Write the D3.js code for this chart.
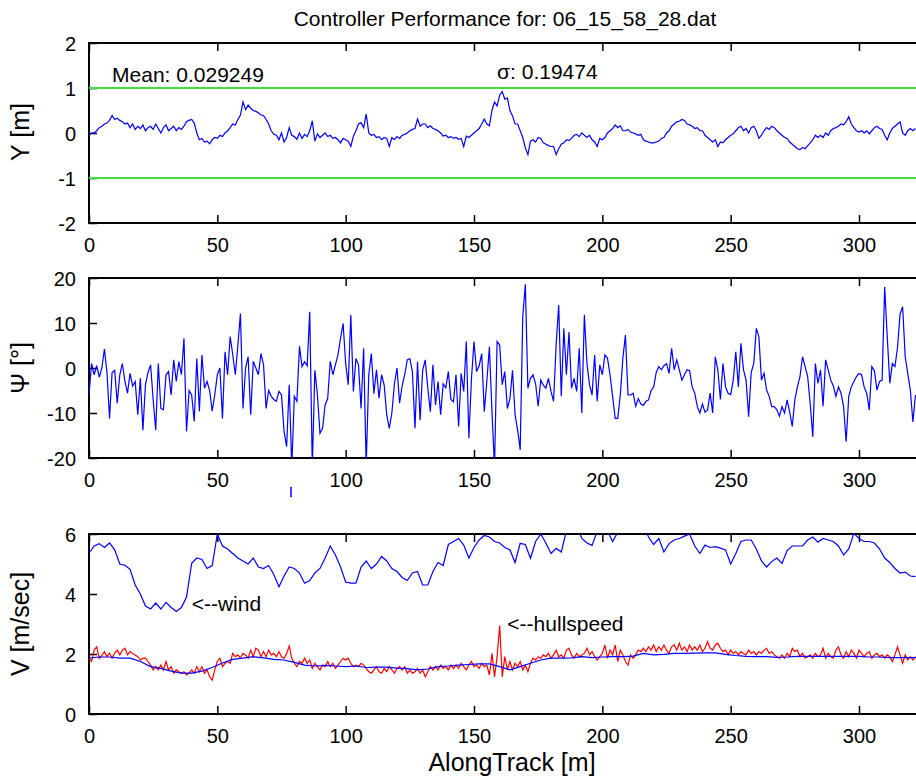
<!DOCTYPE html>
<html><head><meta charset="utf-8">
<script src="https://cdn.jsdelivr.net/npm/d3@7"></script>
<style>body{margin:0;background:#fff;overflow:hidden}</style>
</head><body><svg id="c" width="916" height="778"></svg>
<script>
const chartTitle = "Controller Performance for: 06_15_58_28.dat";
const xTitle = "AlongTrack [m]";
const xTicks = [0, 50, 100, 150, 200, 250, 300];
const yTicksY = [-2, -1, 0, 1, 2];
const yTicksPsi = [-20, -10, 0, 10, 20];
const yTicksV = [0, 2, 4, 6];
const limitLines = [1, -1];
const meanText = "Mean: 0.029249";
const sigmaText = "σ: 0.19474";

// cross-track error Y [m], one sample per metre (0..322)
const crossTrack = [
-0.05,0.0,0.0,0.05,0.12,0.15,0.2,0.22,0.28,0.39,0.3,0.33,0.28,0.25,0.2,0.22,
0.12,0.2,0.08,0.15,0.1,0.18,0.05,0.12,0.15,0.08,0.2,0.1,0.0,0.12,0.18,0.05,0.1,0.15,0.05,0.12,0.08,0.15,
0.25,0.28,0.3,0.22,0.0,-0.15,-0.12,-0.2,-0.18,-0.24,-0.15,-0.1,-0.12,-0.05,-0.08,0.0,0.05,0.12,0.2,0.18,0.3,0.4,
0.69,0.52,0.62,0.55,0.5,0.48,0.45,0.4,0.39,0.3,0.2,0.05,-0.03,-0.05,-0.15,0.0,-0.2,-0.1,0.12,-0.05,
-0.08,-0.14,0.0,-0.12,-0.03,-0.08,0.05,0.27,-0.18,-0.02,-0.1,-0.05,0.0,-0.08,-0.05,-0.12,-0.1,-0.15,-0.22,-0.12,
-0.15,-0.18,-0.3,-0.07,0.05,0.2,0.23,0.12,0.42,0.0,-0.05,-0.03,-0.1,-0.08,-0.15,-0.1,-0.12,-0.3,-0.1,-0.15,
-0.08,-0.12,-0.05,-0.03,0.0,0.05,0.08,0.1,0.31,0.15,0.2,0.2,0.12,0.16,0.1,0.08,0.05,0.0,-0.07,-0.05,
-0.1,-0.08,-0.12,-0.1,-0.14,-0.12,-0.3,-0.07,-0.1,-0.05,0.0,0.05,0.1,0.2,0.31,0.2,0.16,0.5,0.69,0.6,
0.84,0.92,0.75,0.78,0.5,0.38,0.2,0.2,0.05,-0.1,-0.33,-0.48,-0.18,-0.15,-0.2,-0.1,-0.12,-0.22,-0.25,-0.28,
-0.3,-0.3,-0.48,-0.35,-0.25,-0.22,-0.15,-0.17,-0.12,-0.05,-0.03,-0.08,0.0,-0.05,-0.1,-0.05,-0.15,-0.2,-0.3,-0.12,
-0.15,-0.1,0.0,0.05,0.1,0.18,0.12,0.16,0.05,0.05,0.08,0.02,0.0,-0.02,-0.05,-0.03,-0.15,-0.18,-0.2,-0.22,
-0.22,-0.2,-0.18,-0.12,-0.1,0.0,0.05,0.15,0.2,0.25,0.26,0.3,0.28,0.2,0.18,0.15,0.1,0.12,0.05,0.05,
-0.05,-0.1,-0.15,-0.2,-0.15,-0.3,-0.2,-0.22,-0.15,-0.1,-0.05,-0.02,0.05,0.12,0.15,0.05,0.1,0.0,0.12,0.15,
0.05,-0.12,-0.05,0.05,0.12,0.08,0.15,0.12,0.05,0.0,-0.05,-0.1,-0.12,-0.2,-0.25,-0.3,-0.35,-0.37,-0.32,-0.35,
-0.28,-0.22,-0.15,-0.05,-0.1,-0.05,-0.1,0.0,-0.05,0.05,0.1,0.12,0.15,0.2,0.18,0.25,0.36,0.2,0.12,0.05,
0.02,0.05,0.0,0.05,-0.02,0.05,0.12,0.15,0.1,0.08,-0.05,-0.15,0.0,0.1,0.15,0.2,0.25,0.0,-0.05,0.05,
0.1,0.05,0.1
];

// heading error Psi [deg], one sample per metre (0..322)
const heading = [
-6,1.0,-1.5,0.5,-2,0,4.2,-1,-11.2,-1,-0.5,-7.8,-1.5,1.0,-3,-5.6,-1.2,-4,-3,-10.4,
-2.3,-13.8,-3.7,-1,0.7,-7,-13.8,1.0,-9,-9.3,-1.5,-0.8,-6,1.8,-3,1.4,-1.5,6.6,-14.1,-5,
-6,-11.9,2.1,-9.6,2.9,-4.5,-3,-5,-9.6,-6,-1.5,0,-11.2,3.6,-1.5,7,3,-1.5,5,12.1,
-9,0,2.5,-10.4,1.5,0,-1.5,3.2,0.7,-9,-5,-6.3,-7,-7.4,-5.2,-6,-14.1,-17.5,-3.7,-22,
-6.3,-7.4,4.8,0.3,1.4,0.5,12.5,-22,-0.5,-6,-14.5,-13.4,-8.2,-6.8,1.5,-1.5,0.7,2.9,6.6,9.9,
1,-3.7,11.8,-5.2,2.1,0.7,-9,4.4,-22,-1.5,3.2,-5.7,-0.4,-6.7,-1.5,-3.8,-10.4,-13.4,-10,-3.5,
0,-7.8,-4,-1.5,1.8,2.1,-0.8,-13.4,1.4,-11.6,-0.5,1.8,-4.5,-9.7,0.7,-8.2,-3,-10.4,-3.5,-4.4,
-0.8,-7,-7.5,-1.5,-13,-1.2,-5.2,5.9,-15.6,-2.5,5.9,-0.8,0.5,3.2,-9.7,-3,4.7,-9.7,-22,5.9,
5.1,-3.7,-0.8,-9,-6.8,-0.5,-10.4,-13.8,-18.2,11.4,18.6,-4.5,-2.3,-1.5,-3.5,-8.5,-2.7,-3.8,-4.5,-2.3,
-5.2,-7.4,5.1,14,-6.3,8.8,-1.5,8,-4.5,-2.3,-5.2,4.4,-10,11.8,1,-3.7,-6,2.9,-7.4,0.7,
-1.5,2.9,2.2,-1.5,-6.3,-11.2,-11.2,-6,2.2,7.3,-6,-6,-5.6,-8.5,-6.8,-8,-8.3,-7.4,-7.1,-5,
-4.2,-1,0.3,-0.4,0.5,1,-1.2,4.4,-0.4,1.8,-0.4,-2.7,-1.5,-0.4,-0.6,-4.2,-5.6,-8.6,-10,-8,
-9.8,-9.3,-5.6,-10,2.5,-0.4,-7,1,-4.2,-5.6,-5.9,-2.7,3.6,-4.2,5.5,-0.4,-2.7,-10.8,-1,1,
8.8,6.9,-2.7,-1.2,-4.9,-6.3,-8.6,-8.6,-9.3,-10.7,-8.6,-10,-7.1,-9.8,-13,-7.1,-4.2,-1.9,2.5,0.3,
-1.9,-8,-15.3,1,-3.4,-0.4,-8.5,1.8,-0.4,-2.7,-4,-6.3,-4.2,-5.6,-8.6,-16.4,-6.3,-4.2,-3,-1.9,
-1.2,-1.5,-4.2,-5.6,-9.3,0.3,-0.6,-4.9,-3,-2.7,18,7,-3.4,1,0.3,4.5,12,13.6,2.5,-1.2,
-4.9,-12,-6
];
// stray out-of-range segment of the heading trace (x, v1, v2)
const headingStray = [78.7, -26.4, -28.7];

// wind speed [m/s], one sample per 2 m (0..322)
const windSpeed = [
5.36,5.6,5.68,5.55,5.7,5.47,5.0,4.96,4.82,4.3,4.0,3.6,3.5,3.7,3.5,3.72,3.55,3.42,3.55,3.9,
5.02,5.2,5.15,4.85,4.95,6.0,5.6,5.5,5.35,5.2,5.1,5.0,5.2,4.9,4.85,4.95,4.65,4.24,4.6,4.9,
4.85,4.7,4.36,4.45,4.7,4.85,5.2,5.6,5.3,4.9,4.4,4.36,4.36,4.9,5.1,4.85,5.0,5.25,5.1,4.85,
4.75,4.55,4.45,4.7,4.75,4.3,4.3,4.75,5.05,4.95,5.65,5.75,5.85,5.63,5.2,5.55,5.8,5.95,5.9,5.75,
5.7,5.55,5.47,5.05,5.69,5.65,5.19,5.75,6.0,5.7,5.35,5.52,5.4,6.1,6.4,6.3,5.85,5.7,5.62,6.1,
6.4,6.1,5.75,6.05,6.3,6.5,6.4,6.2,6.3,5.9,5.65,5.85,5.4,5.68,5.8,5.85,5.93,6.0,5.6,5.35,
5.63,5.55,5.58,5.53,5.47,5.0,5.35,5.75,5.8,5.8,5.5,5.1,4.9,5.08,5.2,5.02,5.45,5.6,5.6,5.6,
5.8,5.9,5.73,5.85,5.8,5.75,5.6,5.3,5.5,6.02,5.85,5.75,5.75,5.7,5.5,5.2,5.05,4.85,4.7,4.73,
4.6,4.58
];

// commanded / smoothed boat speed [m/s], one sample per 4 m (0..324)
const boatSpeed = [
1.86,1.9,1.9,1.86,1.86,1.75,1.58,1.52,1.43,1.36,1.36,1.43,1.55,1.7,1.82,1.86,1.91,1.87,1.82,1.8,
1.72,1.63,1.6,1.62,1.6,1.58,1.6,1.55,1.56,1.56,1.53,1.51,1.47,1.5,1.58,1.6,1.63,1.65,1.67,1.67,
1.58,1.47,1.58,1.69,1.8,1.86,1.86,1.87,1.91,1.88,1.9,1.91,1.91,1.93,2.02,1.97,1.99,2.02,2.02,2.03,
2.04,2.04,1.99,1.95,1.92,1.91,1.91,1.89,1.9,1.92,1.92,1.92,1.92,1.92,1.92,1.92,1.9,1.9,1.88,1.88,
1.88,1.88
];

// hull speed [m/s], one sample per metre (0..322)
const hullSpeed = [
1.86,1.75,2.13,2.24,1.85,1.95,2.08,1.92,2.03,1.86,2.03,2.13,1.97,2.13,2.19,1.97,2.08,2.02,1.97,1.91,
1.8,1.86,1.86,1.75,1.63,1.47,1.58,1.47,1.63,1.47,1.75,1.47,1.58,1.36,1.47,1.41,1.36,1.41,1.3,1.36,
1.47,1.36,1.58,1.41,1.58,1.36,1.47,1.24,1.13,1.47,1.75,1.86,1.58,1.69,1.75,1.69,2.02,1.91,1.97,1.86,
2.02,1.97,1.86,2.13,1.91,2.19,2.13,1.91,2.08,1.91,2.13,1.97,2.02,1.91,2.08,1.91,1.86,2.02,2.27,1.86,
1.69,1.58,1.75,1.69,1.86,1.69,1.8,1.52,1.69,1.58,1.47,1.63,1.58,1.75,1.58,1.69,1.52,1.63,1.75,1.86,
1.8,1.86,1.69,1.58,1.63,1.58,1.69,1.63,1.52,1.41,1.36,1.47,1.58,1.41,1.36,1.52,1.41,1.58,1.47,1.36,
1.52,1.58,1.47,1.58,1.36,1.47,1.36,1.41,1.52,1.36,1.47,1.24,1.41,1.58,1.47,1.58,1.47,1.63,1.52,1.58,
1.47,1.63,1.52,1.63,1.52,1.69,1.58,1.47,1.63,1.75,1.58,1.63,1.52,1.69,1.58,1.63,1.3,2.02,1.24,1.91,
2.95,1.24,1.91,1.47,1.75,1.47,1.69,1.58,1.75,1.47,1.63,1.41,1.69,1.86,1.8,1.91,1.86,1.97,1.91,2.02,
1.86,1.97,2.13,1.91,1.97,1.86,2.13,2.19,1.97,1.86,2.02,1.91,1.97,2.02,2.19,1.97,2.08,1.91,1.8,1.91,
2.02,2.3,1.86,2.13,1.97,2.3,1.75,2.13,1.97,1.75,1.63,1.97,1.86,1.97,2.13,2.08,2.19,2.08,2.24,2.13,
2.3,2.08,2.24,2.13,2.3,2.13,2.02,2.24,2.3,2.13,2.36,2.13,2.24,2.08,2.3,2.13,2.24,2.13,2.3,2.08,
2.19,2.41,2.19,2.13,2.3,2.36,2.19,2.08,2.13,1.97,2.13,2.02,2.08,1.97,2.08,2.02,1.97,2.13,2.02,2.08,
1.97,2.08,2.02,2.13,2.19,2.02,2.08,1.97,1.91,1.86,1.97,1.86,2.02,1.91,2.19,2.08,2.13,1.91,2.02,1.86,
1.91,1.97,1.86,2.02,1.91,1.97,2.19,1.86,2.02,1.91,1.86,2.13,2.24,1.97,1.86,2.08,1.91,2.13,2.02,1.86,
2.13,2.02,1.91,2.02,2.08,1.86,1.97,2.02,1.91,1.97,1.86,1.97,1.91,1.75,1.97,2.24,1.97,1.69,1.97,1.8,
1.91,1.8,1.91
];

const FONT = "'Liberation Sans', Arial, Helvetica, sans-serif";
const FS_TICK = 20;   // tick labels
const FS_TEXT = 21;   // title and annotations
const FS_AXIS = 25;   // axis titles
const svg = d3.select("#c");

const x = d3.scaleLinear().domain([0, 330]).range([89, 936]);
const fmt = d => String(d);

const panels = [
  {id:"p1", domain:[-2,2], range:[223,43], ticks:yTicksY, label:"Y [m]", labelY:132, tickLabelY:252},
  {id:"p2", domain:[-20,20], range:[458,278], ticks:yTicksPsi, label:"Ψ [°]", labelY:368, tickLabelY:487},
  {id:"p3", domain:[0,6], range:[714,534], ticks:yTicksV, label:"V [m/sec]", labelY:624, tickLabelY:743}
];

panels.forEach(p => {
  p.y = d3.scaleLinear().domain(p.domain).range(p.range);
  const top = p.range[1], bot = p.range[0];
  svg.append("clipPath").attr("id", "clip-" + p.id)
    .append("rect").attr("x", x(0)).attr("y", top).attr("width", x.range()[1] - x(0)).attr("height", bot - top);

  const gB = svg.append("g").attr("transform", `translate(0,${bot})`)
    .call(d3.axisBottom(x).tickValues(xTicks).tickSize(-8).tickSizeOuter(0).tickPadding(0).tickFormat(fmt));
  gB.select(".domain").remove();
  gB.selectAll("line").attr("stroke", "#000").attr("stroke-width", 1.5);
  gB.selectAll("text").attr("y", p.tickLabelY - bot).attr("dy", null)
    .attr("font-family", FONT).attr("font-size", FS_TICK).attr("fill", "#000");
  const gT = svg.append("g").attr("transform", `translate(0,${top})`)
    .call(d3.axisTop(x).tickValues(xTicks).tickSize(-8).tickSizeOuter(0).tickFormat(""));
  gT.select(".domain").remove();
  gT.selectAll("line").attr("stroke", "#000").attr("stroke-width", 1.5);
  const gL = svg.append("g").attr("transform", `translate(${x(0)},0)`)
    .call(d3.axisLeft(p.y).tickValues(p.ticks).tickSize(-8).tickSizeOuter(0).tickPadding(13).tickFormat(fmt));
  gL.select(".domain").remove();
  gL.selectAll("line").attr("stroke", "#000").attr("stroke-width", 1.5);
  gL.selectAll("text").attr("dy", "0.35em").attr("font-family", FONT).attr("font-size", FS_TICK).attr("fill", "#000");

  svg.append("rect").attr("x", x(0)).attr("y", top).attr("width", x.range()[1] - x(0)).attr("height", bot - top)
    .attr("fill", "none").attr("stroke", "#000").attr("stroke-width", 2);

  svg.append("text").attr("transform", `translate(29,${p.labelY}) rotate(-90)`)
    .attr("text-anchor", "middle").attr("font-family", FONT).attr("font-size", FS_AXIS).text(p.label);
});

const [P1, P2, P3] = panels;
const lineOf = (ys, step, yScale) => d3.line().x((d, i) => x(i * step)).y(d => yScale(d))(ys);

const g1 = svg.append("g").attr("clip-path", "url(#clip-p1)");
limitLines.forEach(v => {
  g1.append("line").attr("x1", x(0)).attr("x2", x.range()[1]).attr("y1", P1.y(v)).attr("y2", P1.y(v))
    .attr("stroke", "#3fe03f").attr("stroke-width", 2);
});
g1.append("path").attr("d", lineOf(crossTrack, 1, P1.y)).attr("fill", "none").attr("stroke", "#0000ff").attr("stroke-width", 1.2);
svg.append("text").attr("x", x(9)).attr("y", P1.y(1.13)).attr("font-family", FONT).attr("font-size", FS_TEXT).text(meanText);
svg.append("text").attr("x", x(159)).attr("y", P1.y(1.2)).attr("font-family", FONT).attr("font-size", FS_TEXT).text(sigmaText);

const g2 = svg.append("g").attr("clip-path", "url(#clip-p2)");
g2.append("path").attr("d", lineOf(heading, 1, P2.y)).attr("fill", "none").attr("stroke", "#0000ff").attr("stroke-width", 1.2);
svg.append("line").attr("x1", x(headingStray[0])).attr("x2", x(headingStray[0]))
  .attr("y1", P2.y(headingStray[1])).attr("y2", P2.y(headingStray[2])).attr("stroke", "#0000ff").attr("stroke-width", 1.5);

const g3 = svg.append("g").attr("clip-path", "url(#clip-p3)");
g3.append("path").attr("d", lineOf(windSpeed, 2, P3.y)).attr("fill", "none").attr("stroke", "#0000ff").attr("stroke-width", 1.2);
g3.append("path").attr("d", lineOf(hullSpeed, 1, P3.y)).attr("fill", "none").attr("stroke", "#ff0000").attr("stroke-width", 1.2);
g3.append("path").attr("d", lineOf(boatSpeed, 4, P3.y)).attr("fill", "none").attr("stroke", "#0000ff").attr("stroke-width", 1.2);
svg.append("text").attr("x", x(40)).attr("y", P3.y(3.43)).attr("font-family", FONT).attr("font-size", FS_TEXT).text("<--wind");
svg.append("text").attr("x", x(163)).attr("y", P3.y(2.77)).attr("font-family", FONT).attr("font-size", FS_TEXT).text("<--hullspeed");

svg.append("text").attr("x", 505).attr("y", 26).attr("text-anchor", "middle")
  .attr("font-family", FONT).attr("font-size", FS_TEXT).text(chartTitle);
svg.append("text").attr("x", 512).attr("y", 771).attr("text-anchor", "middle")
  .attr("font-family", FONT).attr("font-size", FS_AXIS).text(xTitle);
</script>
</body></html>
